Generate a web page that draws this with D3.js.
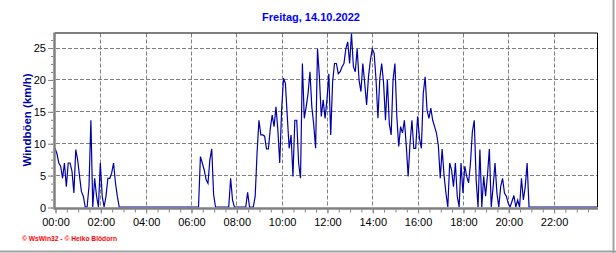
<!DOCTYPE html>
<html>
<head>
<meta charset="utf-8">
<script src="https://cdn.jsdelivr.net/npm/d3@7"></script>
<style>
  body { margin: 0; background: #fff; }
  svg { display: block; font-family: Arial, "Liberation Sans", sans-serif; }
</style>
</head>
<body>
<script>
const title = "Freitag, 14.10.2022";
const yLabel = "Windböen (km/h)";
const credit = "© WsWin32 - © Heiko Blödorn";
const day = "2022-10-14";
const stepMinutes = 5;
const xTickLabels = ["00:00", "02:00", "04:00", "06:00", "08:00", "10:00",
  "12:00", "14:00", "16:00", "18:00", "20:00", "22:00"];
const yTicks = [0, 5, 10, 15, 20, 25];

// gusts in km/h, one value per 5 minutes, one row per hour
const gusts = [
  9.2, 8.4, 6.9, 6.4, 4.5, 6.9, 3.2, 6.9, 6.9, 5.6, 2.2, 9.0,
  7.4, 4.8, 2.4, 1.7, 0, 0, 3.2, 13.6, 0, 4.5, 1.7, 0,
  6.9, 1.7, 0, 1.7, 4.5, 4.5, 5.3, 6.9, 3.8, 1.7, 0, 0,
  0, 0, 0, 0, 0, 0, 0, 0, 0, 0, 0, 0,
  0, 0, 0, 0, 0, 0, 0, 0, 0, 0, 0, 0,
  0, 0, 0, 0, 0, 0, 0, 0, 0, 0, 0, 0,
  0, 0, 0, 0, 0, 7.9, 6.9, 5.8, 4.3, 3.7, 7.4, 9.1,
  1.9, 0, 0, 0, 0, 0, 0, 0, 0, 4.5, 1.1, 0,
  0, 0, 0, 0, 0, 0, 2.3, 0, 0, 0, 1.7, 8.5,
  13.6, 11.3, 11.3, 11.1, 9.1, 9.1, 12.3, 14.4, 12.6, 15.7, 12.1, 6.9,
  15.2, 20.2, 19.4, 14.2, 9.2, 11.3, 4.8, 13.6, 13.6, 6.9, 4.5, 22.5,
  13.9, 15.7, 17.8, 21.2, 15.7, 12.9, 9.2, 24.8, 20.4, 14.2, 16.8, 13.9,
  16.8, 20.9, 11.3, 19.6, 22.5, 22.5, 20.9, 21.2, 22.0, 22.5, 24.8, 25.9,
  22.5, 27.2, 22.0, 21.2, 24.8, 19.9, 18.1, 22.5, 19.4, 16.0, 20.4, 23.0,
  24.8, 24.1, 19.9, 13.9, 20.2, 22.5, 19.4, 13.6, 19.9, 13.1, 11.3, 19.9,
  22.5, 14.2, 9.5, 12.6, 11.6, 13.6, 9.7, 4.8, 10.0, 13.6, 9.2, 9.2,
  14.2, 10.8, 9.2, 17.8, 20.4, 15.2, 13.9, 15.5, 13.6, 12.6, 11.6, 9.6,
  4.5, 9.1, 5.0, 2.2, 0, 6.9, 5.8, 3.2, 6.9, 1.7, 0, 6.9,
  2.2, 6.4, 4.8, 3.8, 6.9, 11.8, 13.6, 4.3, 0, 9.0, 0, 4.8,
  1.7, 5.0, 9.1, 0, 3.2, 6.9, 2.2, 0, 3.2, 4.5, 2.2, 1.7,
  0.6, 0, 0.9, 1.8, 0, 1.1, 0, 4.5, 1.1, 3.2, 6.9, 0,
  0, 0, 0, 0, 0, 0, 0, 0, 0, 0, 0, 0,
  0, 0, 0, 0, 0, 0, 0, 0, 0, 0, 0, 0,
  0, 0, 0, 0, 0, 0, 0, 0, 0, 0, 0, 0
];

const width = 616, height = 253;
const plotLeft = 55, plotRight = 597, plotTop = 33.5, plotBottom = 207;

let svg = d3.select("body").append("svg")
  .attr("width", width)
  .attr("height", height);

let parse = d3.timeParse("%Y-%m-%d %H:%M");
let t0 = parse(day + " 00:00");
let times = gusts.map((v, i) => d3.timeMinute.offset(t0, i * stepMinutes));
let majorTimes = xTickLabels.map(l => parse(day + " " + l));
let minorTimes = d3.timeMinute.every(30).range(t0, times[times.length - 1]);

let x = d3.scaleTime()
  .domain(d3.extent(times))
  .range([plotLeft, plotRight]);
let y = d3.scaleLinear()
  .domain([0, d3.max(gusts)])
  .range([plotBottom, plotTop]);

svg.append("rect")
  .attr("width", width)
  .attr("height", height)
  .attr("fill", "#fff");

// panel frame (right / bottom)
svg.append("line")
  .attr("x1", 613.5).attr("x2", 613.5)
  .attr("y1", 0).attr("y2", height)
  .attr("stroke", "#a0a0a0").attr("stroke-width", 2);
svg.append("line")
  .attr("x1", 0).attr("x2", width)
  .attr("y1", 251.5).attr("y2", 251.5)
  .attr("stroke", "#a0a0a0").attr("stroke-width", 2);

// grid
svg.selectAll(".hgrid")
  .data(yTicks.filter(d => d > 0))
  .join("line")
  .attr("class", "hgrid")
  .attr("x1", plotLeft + 1).attr("x2", plotRight)
  .attr("y1", d => Math.round(y(d)) + 0.5)
  .attr("y2", d => Math.round(y(d)) + 0.5)
  .attr("stroke", "#808080")
  .attr("stroke-dasharray", "4,2");

svg.selectAll(".vgrid")
  .data(majorTimes.slice(1))
  .join("line")
  .attr("class", "vgrid")
  .attr("x1", d => Math.round(x(d)) + 0.5)
  .attr("x2", d => Math.round(x(d)) + 0.5)
  .attr("y1", plotTop).attr("y2", plotBottom)
  .attr("stroke", "#808080")
  .attr("stroke-dasharray", "4,2");

// data
let line = d3.line()
  .x((d, i) => x(times[i]))
  .y(d => y(d));

svg.append("path")
  .datum(gusts)
  .attr("d", line)
  .attr("fill", "none")
  .attr("stroke", "#0000a8")
  .attr("stroke-width", 1.2);

// plot border
svg.append("path")
  .attr("d", `M${plotLeft},${plotTop - 0.5}H${plotRight + 0.5}V${plotBottom}`)
  .attr("fill", "none")
  .attr("stroke", "#000")
  .attr("stroke-width", 1);
svg.append("line")
  .attr("x1", plotLeft - 0.5).attr("x2", plotLeft - 0.5)
  .attr("y1", plotTop - 1).attr("y2", plotBottom + 2.5)
  .attr("stroke", "#808080").attr("stroke-width", 2.5);
svg.append("line")
  .attr("x1", plotLeft - 1).attr("x2", plotRight + 1)
  .attr("y1", plotBottom + 1.5).attr("y2", plotBottom + 1.5)
  .attr("stroke", "#808080").attr("stroke-width", 2.5);

// axes
let xMinor = svg.append("g")
  .attr("transform", `translate(0.5,${plotBottom + 2.5})`)
  .call(d3.axisBottom(x).tickValues(minorTimes).tickSize(3).tickFormat(""));
let xAxis = svg.append("g")
  .attr("transform", `translate(0.5,${plotBottom + 2.5})`)
  .call(d3.axisBottom(x).tickValues(majorTimes).tickSize(4).tickPadding(5)
    .tickFormat((d, i) => xTickLabels[i]));

let yMinor = svg.append("g")
  .attr("transform", `translate(${plotLeft - 2},0.5)`)
  .call(d3.axisLeft(y).tickValues(d3.range(0, d3.max(gusts), 1.25)).tickSize(2).tickFormat(""));
let yAxis = svg.append("g")
  .attr("transform", `translate(${plotLeft - 2},0.5)`)
  .call(d3.axisLeft(y).tickValues(yTicks).tickSize(5).tickPadding(2));

[xMinor, xAxis, yMinor, yAxis].forEach(g => {
  g.select(".domain").remove();
  g.selectAll("line").attr("stroke", "#808080");
  g.selectAll("text")
    .attr("fill", "#000")
    .style("font-size", "11px")
    .style("font-family", "Arial, 'Liberation Sans', sans-serif");
});

// texts
svg.append("text")
  .attr("x", 311)
  .attr("y", 21)
  .attr("text-anchor", "middle")
  .attr("fill", "#0000ff")
  .style("font-size", "11px")
  .style("font-weight", "bold")
  .text(title);

svg.append("text")
  .attr("transform", "translate(31,120) rotate(-90)")
  .attr("text-anchor", "middle")
  .attr("fill", "#0000a8")
  .style("font-size", "11.5px")
  .style("font-weight", "bold")
  .text(yLabel);

svg.append("text")
  .attr("x", 22)
  .attr("y", 241)
  .attr("fill", "#ff0000")
  .attr("textLength", 95)
  .attr("lengthAdjust", "spacingAndGlyphs")
  .style("font-size", "7px")
  .style("font-weight", "bold")
  .text(credit);
</script>
</body>
</html>
